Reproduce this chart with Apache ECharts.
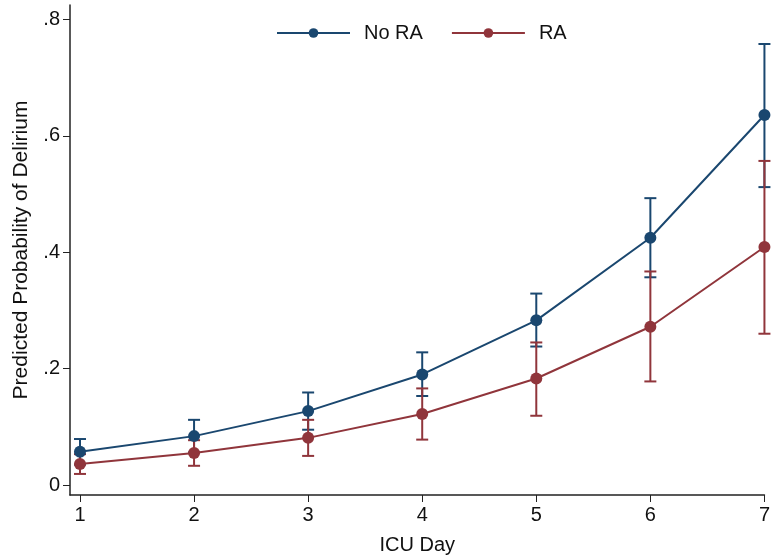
<!DOCTYPE html>
<html>
<head>
<meta charset="utf-8">
<script src="https://cdn.jsdelivr.net/npm/echarts@6/dist/echarts.min.js"></script>
<style>
  html, body { margin: 0; padding: 0; background: #fff; }
  #chart { width: 773px; height: 560px; }
</style>
</head>
<body>
<div id="chart"></div>
<script>
// ======================
// DATA
// ======================
const days = [1, 2, 3, 4, 5, 6, 7];

const noRaMean  = [0.057, 0.084, 0.127, 0.190, 0.283, 0.425, 0.636];
const noRaLower = [0.035, 0.056, 0.095, 0.153, 0.238, 0.357, 0.512];
const noRaUpper = [0.079, 0.112, 0.159, 0.228, 0.329, 0.493, 0.758];

const raMean  = [0.036, 0.055, 0.081, 0.122, 0.183, 0.272, 0.409];
const raLower = [0.019, 0.033, 0.050, 0.078, 0.119, 0.178, 0.260];
const raUpper = [0.053, 0.077, 0.112, 0.166, 0.245, 0.367, 0.557];

const yTicks = [0, 0.2, 0.4, 0.6, 0.8];

const BLUE = '#1a476f';
const RED = '#90353b';
const FONT = '"Liberation Sans", Arial, sans-serif';

// ======================
// ERROR BAR RENDERER
// ======================
function errorBars(color) {
    return function (params, api) {
        const x = api.value(0);
        const lo = api.coord([x, api.value(1)]);
        const hi = api.coord([x, api.value(2)]);
        const half = 6;
        const style = { stroke: color, lineWidth: 2 };
        return {
            type: 'group',
            children: [
                { type: 'line', shape: { x1: lo[0], y1: lo[1], x2: hi[0], y2: hi[1] }, style },
                { type: 'line', shape: { x1: lo[0] - half, y1: lo[1], x2: lo[0] + half, y2: lo[1] }, style },
                { type: 'line', shape: { x1: hi[0] - half, y1: hi[1], x2: hi[0] + half, y2: hi[1] }, style }
            ]
        };
    };
}

const chart = echarts.init(document.getElementById('chart'));

const option = {
    backgroundColor: '#fff',
    animation: false,
    textStyle: { fontFamily: FONT },
    grid: { left: 70, right: 7, top: 5, bottom: 65 },
    legend: {
        data: ['No RA', 'RA'],
        left: 276,
        top: 23,
        padding: 0,
        itemWidth: 73,
        itemHeight: 12,
        itemGap: 28,
        textStyle: { fontSize: 20, color: '#111', fontFamily: FONT, padding: [0, 0, 0, 9] }
    },
    xAxis: {
        type: 'value',
        min: 0.9125,
        max: 7,
        name: 'ICU Day',
        nameLocation: 'middle',
        nameGap: 40,
        nameTextStyle: { fontSize: 20, color: '#111' },
        axisLine: { show: true, onZero: false, lineStyle: { color: '#222', width: 1.5 } },
        axisTick: { show: true, customValues: days, length: 7, lineStyle: { color: '#222' } },
        axisLabel: { customValues: days, fontSize: 20, color: '#111', margin: 10 },
        splitLine: { show: false }
    },
    yAxis: {
        type: 'value',
        min: -0.0172,
        max: 0.825,
        name: 'Predicted Probability of Delirium',
        nameLocation: 'middle',
        nameGap: 38,
        nameTextStyle: { fontSize: 21, color: '#111' },
        axisLine: { show: true, onZero: false, lineStyle: { color: '#222', width: 1.5 } },
        axisTick: { show: true, customValues: yTicks, length: 7, lineStyle: { color: '#222' } },
        axisLabel: {
            customValues: yTicks,
            fontSize: 20,
            color: '#111',
            margin: 10,
            formatter: v => v === 0 ? '0' : String(v.toFixed(1)).replace(/^0/, '')
        },
        splitLine: { show: false }
    },
    series: [
        {
            name: 'No RA CI',
            type: 'custom',
            renderItem: errorBars(BLUE),
            data: days.map((d, i) => [d, noRaLower[i], noRaUpper[i]]),
            z: 2
        },
        {
            name: 'RA CI',
            type: 'custom',
            renderItem: errorBars(RED),
            data: days.map((d, i) => [d, raLower[i], raUpper[i]]),
            z: 2
        },
        {
            name: 'No RA',
            type: 'line',
            data: days.map((d, i) => [d, noRaMean[i]]),
            color: BLUE,
            symbol: 'circle',
            symbolSize: 12,
            lineStyle: { width: 2, color: BLUE },
            itemStyle: { color: BLUE },
            z: 3
        },
        {
            name: 'RA',
            type: 'line',
            data: days.map((d, i) => [d, raMean[i]]),
            color: RED,
            symbol: 'circle',
            symbolSize: 12,
            lineStyle: { width: 2, color: RED },
            itemStyle: { color: RED },
            z: 4
        }
    ]
};

chart.setOption(option);
</script>
</body>
</html>
